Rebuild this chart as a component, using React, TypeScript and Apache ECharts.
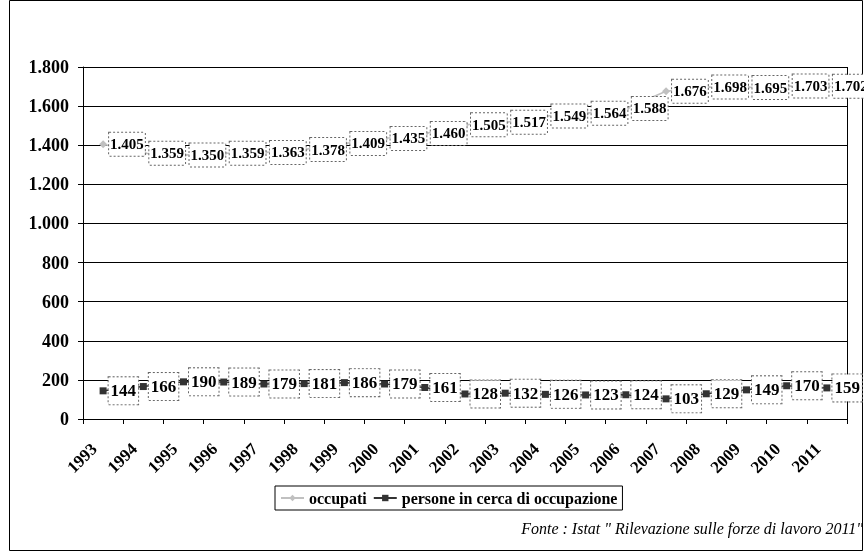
import React, { useEffect, useRef } from "react";
import * as echarts from "echarts";

const years = ["1993","1994","1995","1996","1997","1998","1999","2000","2001","2002","2003","2004","2005","2006","2007","2008","2009","2010","2011"];
const occupati = [1405,1359,1350,1359,1363,1378,1409,1435,1460,1505,1517,1549,1564,1588,1676,1698,1695,1703,1702];
const persone = [144,166,190,189,179,181,186,179,161,128,132,126,123,124,103,129,149,170,159];
const yTicks = { min: 0, max: 1800, interval: 200 };

const fmt = (v: number) => String(v).replace(/\B(?=(\d{3})+(?!\d))/g, ".");
const FONT = "Times New Roman";

export default function App() {
  const ref = useRef<HTMLDivElement>(null);
  useEffect(() => {
    const chart = echarts.init(ref.current!, null, { renderer: "svg" });
    chart.setOption({
      animation: false,
      grid: { left: 83, right: 17, top: 67, bottom: 133, containLabel: false },
      xAxis: {
        type: "category",
        data: years,
        boundaryGap: true,
        axisLine: { lineStyle: { color: "#000", width: 1 } },
        axisTick: { show: true, length: 5, lineStyle: { color: "#000" } },
        axisLabel: {
          rotate: 45, fontFamily: FONT, fontWeight: "bold", fontSize: 17, color: "#000", margin: 18, interval: 0,
          formatter: (v: string) => v + "\u00a0\u00a0\u00a0",
        },
      },
      yAxis: {
        type: "value",
        min: yTicks.min,
        max: yTicks.max,
        interval: yTicks.interval,
        axisLine: { show: true, lineStyle: { color: "#000" } },
        axisTick: { show: true, length: 5, lineStyle: { color: "#000" } },
        splitLine: { lineStyle: { color: "#000", width: 1 } },
        axisLabel: { fontFamily: FONT, fontWeight: "bold", fontSize: 18, color: "#000", margin: 14, formatter: (v: number) => fmt(v) },
      },
      legend: {
        bottom: 42,
        left: 275,
        itemWidth: 23,
        itemHeight: 8,
        itemGap: 6,
        padding: [4, 5, 4, 5],
        borderColor: "#000",
        borderWidth: 1,
        textStyle: { fontFamily: FONT, fontWeight: "bold", fontSize: 16, color: "#000" },
        data: ["occupati", "persone in cerca di occupazione"],
      },
      graphic: [
        { type: "rect", shape: { x: 9.5, y: 0.5, width: 853, height: 550 }, style: { fill: "none", stroke: "#000", lineWidth: 1 }, silent: true },
        { type: "line", shape: { x1: 847.5, y1: 67, x2: 847.5, y2: 419 }, style: { stroke: "#000", lineWidth: 1 }, silent: true },
        { type: "text", right: 1, top: 520, style: { text: "Fonte : Istat \" Rilevazione sulle forze di lavoro 2011\"", fontFamily: FONT, fontStyle: "italic", fontSize: 16, fill: "#000" } },
      ],
      series: [
        {
          name: "occupati",
          type: "line",
          data: occupati,
          symbol: "diamond",
          symbolSize: 8,
          itemStyle: { color: "#c0c0c0" },
          lineStyle: { color: "#c0c0c0", width: 1.5 },
          label: {
            show: true, position: "right", distance: 2,
            formatter: (p: any) => fmt(p.value),
            fontFamily: FONT, fontWeight: "bold", fontSize: 15, color: "#000",
            backgroundColor: "#fff", borderColor: "#666", borderWidth: 1, borderType: "dotted", padding: [4, 1, 4, 1],
          },
        },
        {
          name: "persone in cerca di occupazione",
          type: "line",
          data: persone,
          symbol: "rect",
          symbolSize: 7,
          itemStyle: { color: "#333" },
          lineStyle: { color: "#333", width: 1.5 },
          label: {
            show: true, position: "right", distance: 2,
            formatter: (p: any) => fmt(p.value),
            fontFamily: FONT, fontWeight: "bold", fontSize: 17, color: "#000",
            backgroundColor: "#fff", borderColor: "#666", borderWidth: 1, borderType: "dotted", padding: [5, 2, 5, 2],
          },
        },
      ],
    });
    return () => chart.dispose();
  }, []);
  return <div ref={ref} style={{ position: "fixed", left: 0, top: 0, width: 864, height: 552 }} />;
}
